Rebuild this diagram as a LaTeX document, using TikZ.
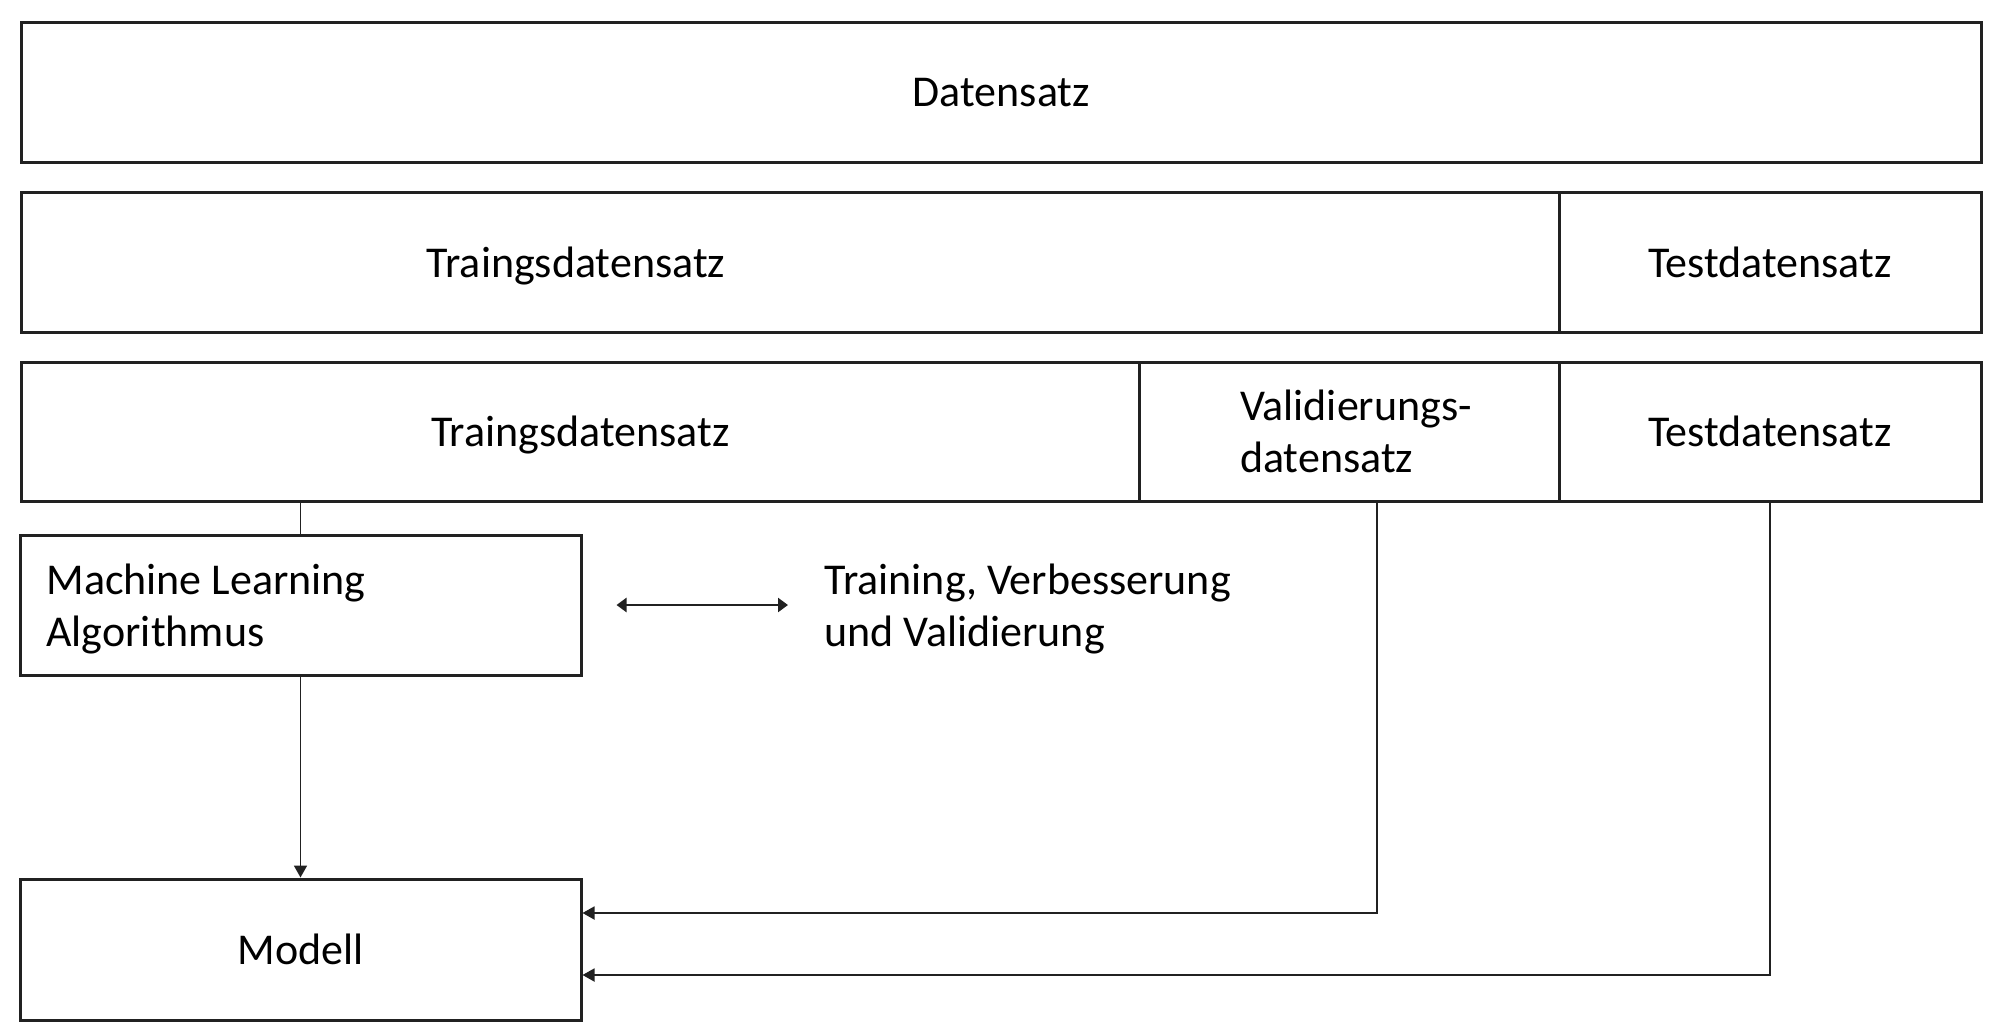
\documentclass[tikz,border=0pt]{standalone}
\usepackage{fontspec}
\setmainfont{Carlito}
\usetikzlibrary{arrows.meta}
\begin{document}
\begin{tikzpicture}[x=0.5pt,y=-0.5pt,
  box/.style={draw=black!87, line width=1.5pt, rectangle, inner sep=0pt, text depth=0pt, font=\fontsize{22}{26}\selectfont},
  txt/.style={inner sep=0pt, text depth=0pt, font=\fontsize{22}{26}\selectfont, align=left},
  conn/.style={draw=black!87, line width=0.8pt},
  arr/.style={conn, line width=0.9pt, -{Triangle[length=6pt,width=6.5pt]}},
  dbl/.style={draw=black!87, line width=1.2pt, {Triangle[length=5pt,width=7pt]}-{Triangle[length=5pt,width=7pt]}}
]
\useasboundingbox (0,0) rectangle (1994,1029);
% row 1
\node[box, minimum width=979.7pt, minimum height=69.95pt] (ds) at (1001.3,92.85) {Datensatz};
% row 2
\node[box, minimum width=768.7pt, minimum height=70pt] (tr1) at (790.3,262) {};
\node[txt] (tr1t) at (576,262) {Traingsdatensatz};
\node[box, minimum width=211pt, minimum height=70pt] (te1) at (1770,262) {Testdatensatz};
% row 3
\node[box, minimum width=558.7pt, minimum height=69.5pt] (tr2) at (580.3,431.5) {Traingsdatensatz};
\node[box, minimum width=210pt, minimum height=69.5pt, align=left] (val) at (1349,431.5) {\hspace*{7pt}Validierungs-\\\hspace*{7pt}datensatz};
\node[box, minimum width=211pt, minimum height=69.5pt] (te2) at (1770,431.5) {Testdatensatz};
% ML box
\node[box, minimum width=280.5pt, minimum height=70pt] (ml) at (300.5,605) {};
\node[txt, anchor=west] (mlt) at (46,605) {Machine Learning\\Algorithmus};
% label
\node[txt, anchor=west] (lbl) at (824,605) {Training, Verbesserung\\und Validierung};
% Modell
\node[box, minimum width=280.5pt, minimum height=70.5pt] (mod) at (300.5,949.5) {Modell};
% connectors
\draw[conn] (tr2.south -| ml.north) -- (ml.north);
\draw[arr] (ml.south) -- (mod.north);
\draw[dbl] ([xshift=17pt]ml.east) -- ([xshift=-18pt]lbl.west);
\draw[arr] ([xshift=14pt]val.south) |- ([yshift=18.25pt]mod.east);
\draw[arr] (te2.south) |- ([yshift=-12.75pt]mod.east);
\end{tikzpicture}
\end{document}
